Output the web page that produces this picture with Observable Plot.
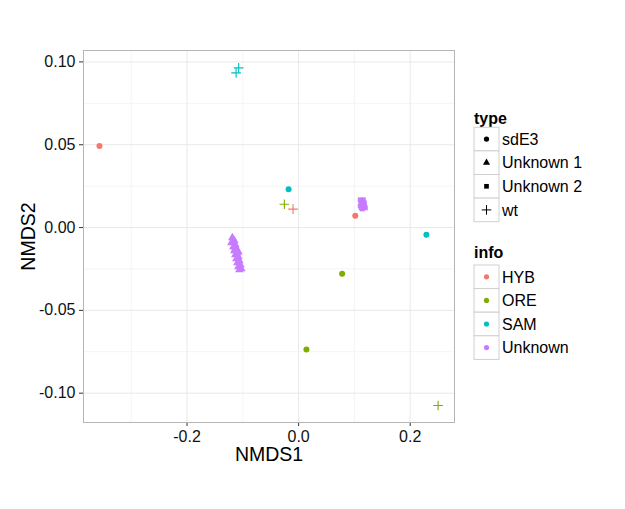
<!DOCTYPE html>
<html><head><meta charset="utf-8">
<script src="https://cdn.jsdelivr.net/npm/d3@7"></script>
<script src="https://cdn.jsdelivr.net/npm/@observablehq/plot@0.6"></script>
<style>
body{margin:0;background:#fff;font-family:"Liberation Sans",Arial,Helvetica,sans-serif}
#chart{position:relative;width:625px;height:509px}
</style>
</head><body><div id="chart"></div>
<script>
// ---- data ----
const typeLevels = ["sdE3", "Unknown 1", "Unknown 2", "wt"];
const infoLevels = ["HYB", "ORE", "SAM", "Unknown"];
const infoColors = ["#F8766D", "#7CAE00", "#00BFC4", "#C77CFF"];
const xTicks = [-0.2, 0.0, 0.2];
const xMinor = [-0.3, -0.1, 0.1];
const yTicks = [-0.10, -0.05, 0.00, 0.05, 0.10];
const yMinor = [-0.075, -0.025, 0.025, 0.075];

// sdE3 (circles)
const sdE3X = [-0.357, -0.018, 0.1015, 0.229, 0.078, 0.014];
const sdE3Y = [0.0492, 0.0231, 0.0071, -0.0044, -0.0279, -0.0737];
const sdE3Info = ["HYB", "SAM", "HYB", "SAM", "ORE", "ORE"];
// wt (plus)
const wtX = [-0.1075, -0.1121, -0.0256, -0.0100, 0.250];
const wtY = [0.0964, 0.0934, 0.0141, 0.0111, -0.1074];
const wtInfo = ["SAM", "SAM", "ORE", "HYB", "ORE"];
// Unknown 1 (triangles), info = Unknown
const u1X = [-0.1188, -0.1152, -0.1205, -0.1134, -0.1170, -0.1116, -0.1152, -0.1098, -0.1134, -0.1080, -0.1116, -0.1062, -0.1098, -0.1044, -0.1080, -0.1027, -0.1062, -0.1134, -0.1080];
const u1Y = [-0.0062, -0.0080, -0.0092, -0.0104, -0.0116, -0.0128, -0.0140, -0.0152, -0.0164, -0.0176, -0.0189, -0.0201, -0.0213, -0.0225, -0.0237, -0.0249, -0.0255, -0.0122, -0.0146];
// Unknown 2 (squares), info = Unknown
const u2X = [0.1105, 0.1159, 0.1123, 0.1177, 0.1105, 0.1159, 0.1141, 0.1195, 0.1123, 0.1177];
const u2Y = [0.0167, 0.0167, 0.0149, 0.0149, 0.0131, 0.0131, 0.0113, 0.0119, 0.0119, 0.0137];

const rows = (xs, ys, infos, type) => xs.map((x, i) => ({x, y: ys[i], info: Array.isArray(infos) ? infos[i] : infos, type}));
const sdE3 = rows(sdE3X, sdE3Y, sdE3Info, "sdE3");
const wt = rows(wtX, wtY, wtInfo, "wt");
const u1 = rows(u1X, u1Y, "Unknown", "Unknown 1");
const u2 = rows(u2X, u2Y, "Unknown", "Unknown 2");

const FONT = '"Liberation Sans", Arial, Helvetica, sans-serif';

const plot = Plot.plot({
  width: 625, height: 509,
  marginLeft: 83, marginRight: 171, marginTop: 50, marginBottom: 87,
  style: {fontFamily: FONT, fontSize: "16px", color: "#1a1a1a", background: "#fff"},
  x: {domain: [-0.3856, 0.2794]},
  y: {domain: [-0.1177, 0.1069]},
  color: {domain: infoLevels, range: infoColors},
  marks: [
    Plot.gridX(xMinor, {stroke: "#f5f5f5", strokeOpacity: 1}),
    Plot.gridY(yMinor, {stroke: "#f5f5f5", strokeOpacity: 1}),
    Plot.gridX(xTicks, {stroke: "#e8e8e8", strokeOpacity: 1}),
    Plot.gridY(yTicks, {stroke: "#e8e8e8", strokeOpacity: 1}),
    Plot.axisX(xTicks, {tickSize: 4, tickPadding: 4, stroke: "#333", fill: "#111", fontSize: 16,
      tickFormat: d => d.toFixed(1), label: "NMDS1", labelAnchor: "center", labelArrow: "none", labelOffset: 38}),
    Plot.axisY(yTicks, {tickSize: 4, tickPadding: 4, stroke: "#333", fill: "#111", fontSize: 16,
      tickFormat: d => d.toFixed(2), label: "NMDS2", labelAnchor: "center", labelArrow: "none", labelOffset: 62}),
    Plot.dot(u1, {x: "x", y: "y", fill: "info", symbol: "triangle", r: 3.2}),
    Plot.dot(u2, {x: "x", y: "y", fill: "info", symbol: "square", r: 2.8}),
    Plot.dot(sdE3, {x: "x", y: "y", fill: "info", symbol: "circle", r: 3}),
    Plot.dot(wt, {x: "x", y: "y", stroke: "info", symbol: "plus", r: 3.2, strokeWidth: 1.1}),
    Plot.frame({stroke: "#b5b5b5", strokeWidth: 1})
  ]
});
document.getElementById("chart").appendChild(plot);

// enlarge axis titles
d3.select(plot).selectAll("[aria-label='x-axis label'] text, [aria-label='y-axis label'] text")
  .style("font-size", "19.5px").attr("fill", "#000");

// ---- legend (drawn with d3 into the same svg) ----
const svg = d3.select(plot);
const lg = svg.append("g").attr("font-family", FONT).attr("text-anchor", "start");
const keyX = 474, keyW = 25, keyH = 23.6;
function legendBlock(title, titleY, top, labels, drawSym) {
  lg.append("text").attr("x", keyX).attr("y", titleY).attr("font-size", 16).attr("font-weight", "bold")
    .attr("text-anchor", "start").attr("fill", "#000").text(title);
  labels.forEach((lab, i) => {
    const y0 = top + i * keyH;
    lg.append("rect").attr("x", keyX).attr("y", y0).attr("width", keyW).attr("height", keyH)
      .attr("fill", "#fff").attr("stroke", "#d0d0d0").attr("stroke-width", 1);
    drawSym(lg, keyX + keyW / 2, y0 + keyH / 2, i);
    lg.append("text").attr("x", keyX + 28).attr("y", y0 + keyH / 2).attr("dy", "0.36em")
      .attr("text-anchor", "start").attr("font-size", 16).attr("fill", "#000").text(lab);
  });
}
const symTypes = [d3.symbolCircle, d3.symbolTriangle, d3.symbolSquare, d3.symbolPlus];
legendBlock("type", 124, 127.3, typeLevels, (g, cx, cy, i) => {
  const plus = i === 3;
  g.append("path").attr("transform", `translate(${cx},${cy})`)
    .attr("d", d3.symbol(symTypes[i], plus ? 32 : 22)())
    .attr("fill", plus ? "none" : "#000").attr("stroke", plus ? "#000" : "none").attr("stroke-width", 1);
});
legendBlock("info", 258, 265, infoLevels, (g, cx, cy, i) => {
  g.append("circle").attr("cx", cx).attr("cy", cy).attr("r", 2.6).attr("fill", infoColors[i]);
});
</script>
</body></html>
